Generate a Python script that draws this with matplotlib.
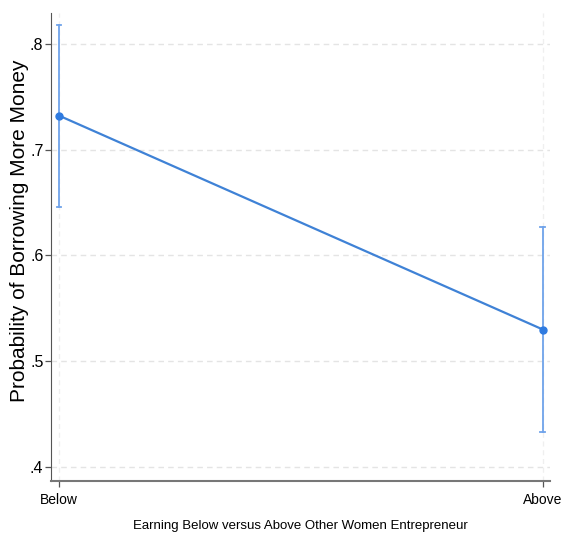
#!/usr/bin/env python3

import matplotlib
matplotlib.use("Agg")
import matplotlib.pyplot as plt

# values
groups = ["Below", "Above"]
probs = [0.732, 0.530]
ci_low = [0.646, 0.433]
ci_high = [0.818, 0.627]
yticks = [0.4, 0.5, 0.6, 0.7, 0.8]
ytick_labels = [".4", ".5", ".6", ".7", ".8"]

myFont = "Liberation Sans"
lineColor = "#3f82d6"
ciColor = "#6fa3ea"

fig = plt.figure()
fig.set_size_inches(5.65, 5.38)
ax = fig.add_axes([0.0903, 0.106, 0.883, 0.870])

x = list(range(len(groups)))
for xi, lo, hi in zip(x, ci_low, ci_high):
    ax.plot([xi, xi], [lo, hi], color=ciColor, lw=1.3, zorder=2)
    ax.plot([xi - 0.005, xi + 0.005], [hi, hi], color=ciColor, lw=1.3, zorder=2)
    ax.plot([xi - 0.005, xi + 0.005], [lo, lo], color=ciColor, lw=1.3, zorder=2)
ax.plot(x, probs, color=lineColor, lw=1.6, marker="o", markersize=5,
        markerfacecolor="#2f7be0", markeredgecolor="#2f7be0", zorder=3)

ax.set_xlim(-0.0165, 1.0145)
ax.set_ylim(0.387, 0.829)
ax.set_yticks(yticks)
ax.set_yticklabels(ytick_labels, fontsize=11.5, family=myFont)
ax.set_xticks(x)
ax.set_xticklabels(groups, fontsize=10, family=myFont)

ax.grid(True, axis="y", color="#e4e4e4", linestyle=(0, (4, 3)), lw=1.0)
for xi in x:
    ax.axvline(xi, color="#efefef", linestyle=(0, (4, 3)), lw=0.9, zorder=0)

for s in ["top", "right"]:
    ax.spines[s].set_visible(False)
ax.spines["left"].set_color("#555555")
ax.spines["bottom"].set_color("#777777")
ax.spines["bottom"].set_linewidth(1.5)
ax.tick_params(direction="out", length=4, width=0.9, colors="#555555", labelcolor="black")
ax.tick_params(axis="y", pad=1.5)
ax.tick_params(axis="x", pad=5)

ax.set_ylabel("Probability of Borrowing More Money", fontsize=15, family=myFont)
ax.yaxis.set_label_coords(-0.045, 0.534)
ax.set_xlabel("Earning Below versus Above Other Women Entrepreneur", fontsize=9.5, family=myFont)
ax.xaxis.set_label_coords(0.5, -0.083)

fig.savefig("out.png", dpi=100)
